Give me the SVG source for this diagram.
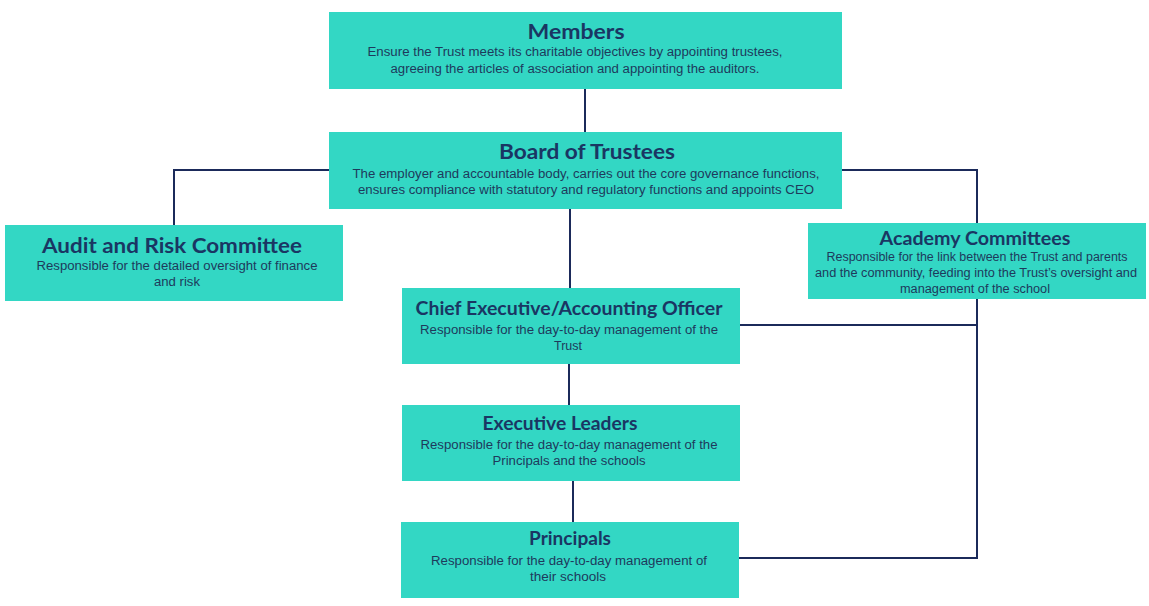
<svg xmlns="http://www.w3.org/2000/svg" width="1149" height="606" viewBox="0 0 1149 606">
<style>
.box{fill:#33D7C4;}
.t{font-family:Lato,"Open Sans",sans-serif;font-weight:bold;fill:#1A3663;text-anchor:middle;}
.b{font-family:"Liberation Sans",Arial,sans-serif;font-size:12.5px;fill:#1E3A5C;text-anchor:middle;}
.c{fill:none;stroke:#1B2A5A;stroke-width:2;}
</style>
<rect width="1149" height="606" fill="#ffffff"/>
<g id="connectors">
<path class="c" d="M585 89V132"/>
<path class="c" d="M329 170H174V225"/>
<path class="c" d="M842 170H977V223"/>
<path class="c" d="M570 209V288"/>
<path class="c" d="M569 364V405"/>
<path class="c" d="M573 481V522"/>
<path class="c" d="M977 299V558H739"/>
<path class="c" d="M740 325H977"/>
</g>
<g id="members">
<rect class="box" x="329" y="12" width="513" height="77"/>
<text class="t" x="576" y="39" font-size="21" textLength="97" lengthAdjust="spacingAndGlyphs">Members</text>
<text class="b" x="575" y="56" textLength="415" lengthAdjust="spacingAndGlyphs">Ensure the Trust meets its charitable objectives by appointing trustees,</text>
<text class="b" x="575" y="73" textLength="369" lengthAdjust="spacingAndGlyphs">agreeing the articles of association and appointing the auditors.</text>
</g>
<g id="board">
<rect class="box" x="329" y="132" width="513" height="77"/>
<text class="t" x="587" y="159" font-size="21" textLength="176" lengthAdjust="spacingAndGlyphs">Board of Trustees</text>
<text class="b" x="586" y="178" textLength="467" lengthAdjust="spacingAndGlyphs">The employer and accountable body, carries out the core governance functions,</text>
<text class="b" x="586" y="194" textLength="456" lengthAdjust="spacingAndGlyphs">ensures compliance with statutory and regulatory functions and appoints CEO</text>
</g>
<g id="audit">
<rect class="box" x="5" y="225" width="338" height="76"/>
<text class="t" x="172" y="253" font-size="21" textLength="260" lengthAdjust="spacingAndGlyphs">Audit and Risk Committee</text>
<text class="b" x="177" y="270" textLength="281" lengthAdjust="spacingAndGlyphs">Responsible for the detailed oversight of finance</text>
<text class="b" x="177" y="286" textLength="46" lengthAdjust="spacingAndGlyphs">and risk</text>
</g>
<g id="academy">
<rect class="box" x="808" y="223" width="338" height="76"/>
<text class="t" x="975" y="245" font-size="18" textLength="191" lengthAdjust="spacingAndGlyphs">Academy Committees</text>
<text class="b" x="977" y="261" textLength="301" lengthAdjust="spacingAndGlyphs">Responsible for the link between the Trust and parents</text>
<text class="b" x="976" y="277" textLength="322" lengthAdjust="spacingAndGlyphs">and the community, feeding into the Trust’s oversight and</text>
<text class="b" x="975" y="293" textLength="150" lengthAdjust="spacingAndGlyphs">management of the school</text>
</g>
<g id="ceo">
<rect class="box" x="402" y="288" width="338" height="76"/>
<text class="t" x="569" y="315" font-size="18" textLength="307" lengthAdjust="spacingAndGlyphs">Chief Executive/Accounting  Officer</text>
<text class="b" x="569" y="334" textLength="298" lengthAdjust="spacingAndGlyphs">Responsible for the day-to-day management of the</text>
<text class="b" x="568" y="350" textLength="28" lengthAdjust="spacingAndGlyphs">Trust</text>
</g>
<g id="exec">
<rect class="box" x="402" y="405" width="338" height="76"/>
<text class="t" x="560" y="430" font-size="18" textLength="155" lengthAdjust="spacingAndGlyphs">Executive Leaders</text>
<text class="b" x="569" y="449" textLength="297" lengthAdjust="spacingAndGlyphs">Responsible for the day-to-day management of the</text>
<text class="b" x="569" y="465" textLength="153" lengthAdjust="spacingAndGlyphs">Principals and the schools</text>
</g>
<g id="principals">
<rect class="box" x="401" y="522" width="338" height="76"/>
<text class="t" x="570" y="545" font-size="18" textLength="82" lengthAdjust="spacingAndGlyphs">Principals</text>
<text class="b" x="569" y="565" textLength="276" lengthAdjust="spacingAndGlyphs">Responsible for the day-to-day management of</text>
<text class="b" x="568" y="581" textLength="76" lengthAdjust="spacingAndGlyphs">their schools</text>
</g>
</svg>
